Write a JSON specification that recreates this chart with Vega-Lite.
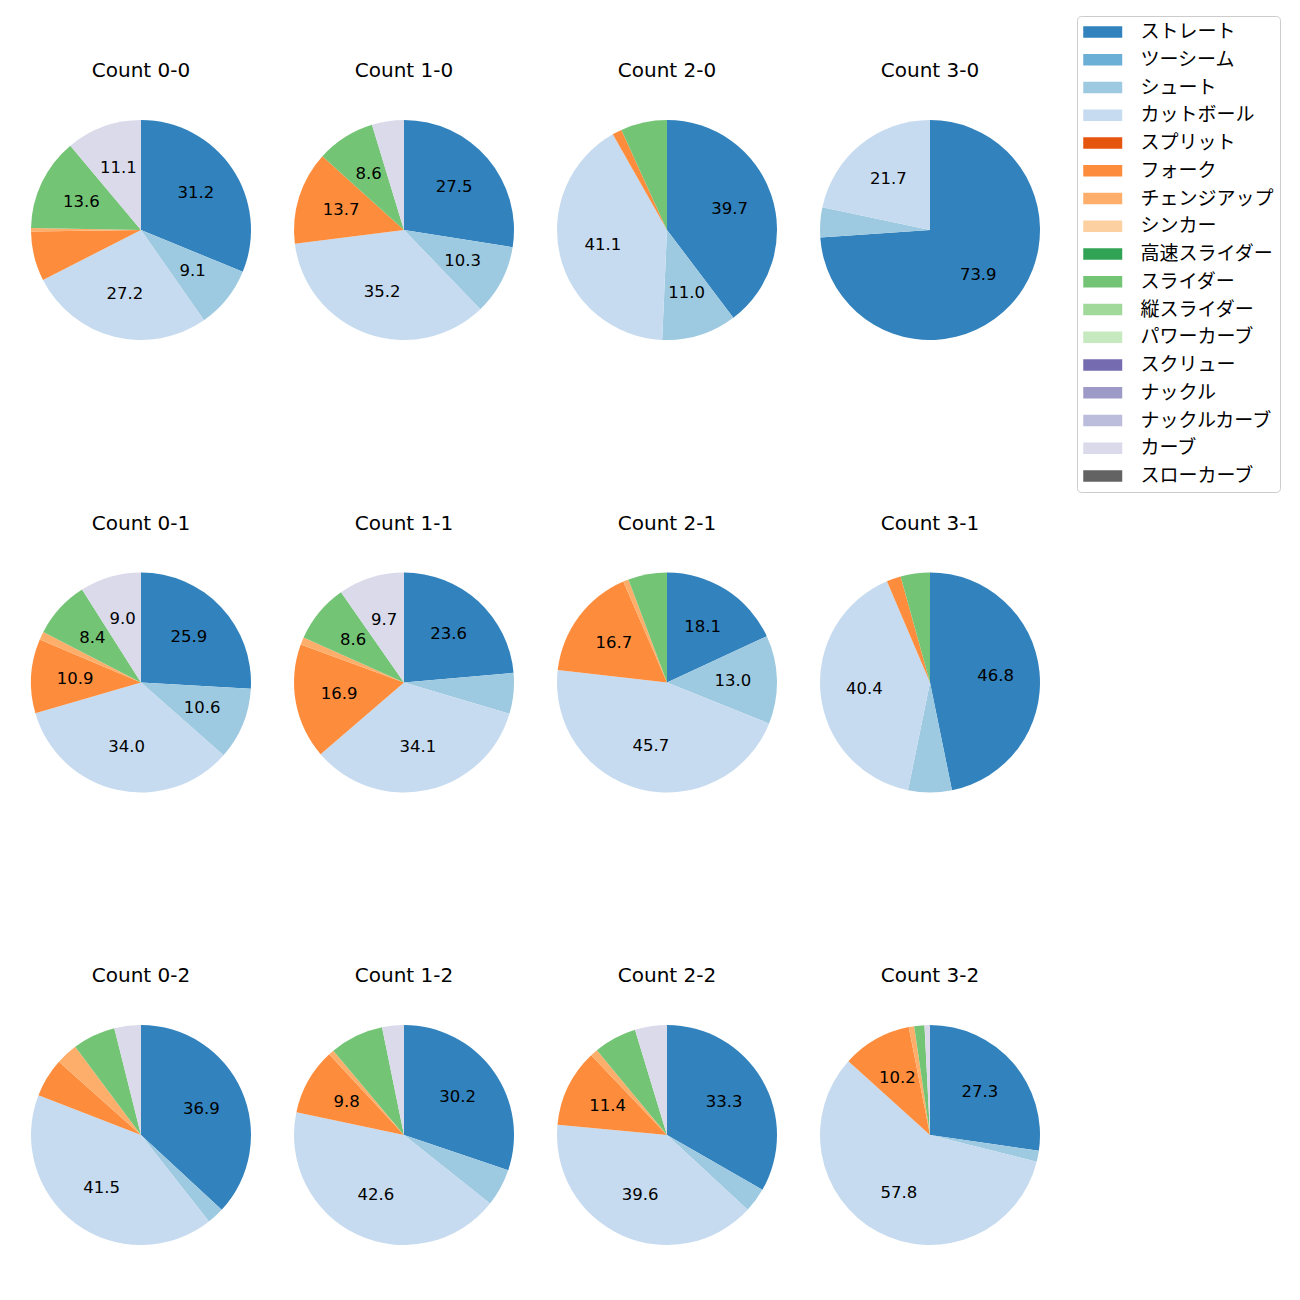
{
  "$schema": "https://vega.github.io/schema/vega-lite/v6.json",
  "padding": {"left": 31, "top": 15, "right": 0, "bottom": 0},
  "background": "white",
  "config": {
    "view": {"stroke": null},
    "font": "DejaVu Sans"
  },
  "data": {
    "values": [
      {"count": "Count 0-0", "pitch": "ストレート", "i": 0, "pct": 31.2},
      {"count": "Count 0-0", "pitch": "シュート", "i": 2, "pct": 9.1},
      {"count": "Count 0-0", "pitch": "カットボール", "i": 3, "pct": 27.2},
      {"count": "Count 0-0", "pitch": "フォーク", "i": 5, "pct": 7.3},
      {"count": "Count 0-0", "pitch": "チェンジアップ", "i": 6, "pct": 0.5},
      {"count": "Count 0-0", "pitch": "スライダー", "i": 9, "pct": 13.6},
      {"count": "Count 0-0", "pitch": "カーブ", "i": 15, "pct": 11.1},
      {"count": "Count 1-0", "pitch": "ストレート", "i": 0, "pct": 27.5},
      {"count": "Count 1-0", "pitch": "シュート", "i": 2, "pct": 10.3},
      {"count": "Count 1-0", "pitch": "カットボール", "i": 3, "pct": 35.2},
      {"count": "Count 1-0", "pitch": "フォーク", "i": 5, "pct": 13.7},
      {"count": "Count 1-0", "pitch": "スライダー", "i": 9, "pct": 8.6},
      {"count": "Count 1-0", "pitch": "カーブ", "i": 15, "pct": 4.7},
      {"count": "Count 2-0", "pitch": "ストレート", "i": 0, "pct": 39.7},
      {"count": "Count 2-0", "pitch": "シュート", "i": 2, "pct": 11.0},
      {"count": "Count 2-0", "pitch": "カットボール", "i": 3, "pct": 41.1},
      {"count": "Count 2-0", "pitch": "フォーク", "i": 5, "pct": 1.4},
      {"count": "Count 2-0", "pitch": "スライダー", "i": 9, "pct": 6.8},
      {"count": "Count 3-0", "pitch": "ストレート", "i": 0, "pct": 73.9},
      {"count": "Count 3-0", "pitch": "シュート", "i": 2, "pct": 4.4},
      {"count": "Count 3-0", "pitch": "カットボール", "i": 3, "pct": 21.7},
      {"count": "Count 0-1", "pitch": "ストレート", "i": 0, "pct": 25.9},
      {"count": "Count 0-1", "pitch": "シュート", "i": 2, "pct": 10.6},
      {"count": "Count 0-1", "pitch": "カットボール", "i": 3, "pct": 34.0},
      {"count": "Count 0-1", "pitch": "フォーク", "i": 5, "pct": 10.9},
      {"count": "Count 0-1", "pitch": "チェンジアップ", "i": 6, "pct": 1.2},
      {"count": "Count 0-1", "pitch": "スライダー", "i": 9, "pct": 8.4},
      {"count": "Count 0-1", "pitch": "カーブ", "i": 15, "pct": 9.0},
      {"count": "Count 1-1", "pitch": "ストレート", "i": 0, "pct": 23.6},
      {"count": "Count 1-1", "pitch": "シュート", "i": 2, "pct": 6.0},
      {"count": "Count 1-1", "pitch": "カットボール", "i": 3, "pct": 34.1},
      {"count": "Count 1-1", "pitch": "フォーク", "i": 5, "pct": 16.9},
      {"count": "Count 1-1", "pitch": "チェンジアップ", "i": 6, "pct": 1.1},
      {"count": "Count 1-1", "pitch": "スライダー", "i": 9, "pct": 8.6},
      {"count": "Count 1-1", "pitch": "カーブ", "i": 15, "pct": 9.7},
      {"count": "Count 2-1", "pitch": "ストレート", "i": 0, "pct": 18.1},
      {"count": "Count 2-1", "pitch": "シュート", "i": 2, "pct": 13.0},
      {"count": "Count 2-1", "pitch": "カットボール", "i": 3, "pct": 45.7},
      {"count": "Count 2-1", "pitch": "フォーク", "i": 5, "pct": 16.7},
      {"count": "Count 2-1", "pitch": "チェンジアップ", "i": 6, "pct": 0.8},
      {"count": "Count 2-1", "pitch": "スライダー", "i": 9, "pct": 5.7},
      {"count": "Count 3-1", "pitch": "ストレート", "i": 0, "pct": 46.8},
      {"count": "Count 3-1", "pitch": "シュート", "i": 2, "pct": 6.4},
      {"count": "Count 3-1", "pitch": "カットボール", "i": 3, "pct": 40.4},
      {"count": "Count 3-1", "pitch": "フォーク", "i": 5, "pct": 2.1},
      {"count": "Count 3-1", "pitch": "スライダー", "i": 9, "pct": 4.3},
      {"count": "Count 0-2", "pitch": "ストレート", "i": 0, "pct": 36.9},
      {"count": "Count 0-2", "pitch": "シュート", "i": 2, "pct": 2.5},
      {"count": "Count 0-2", "pitch": "カットボール", "i": 3, "pct": 41.5},
      {"count": "Count 0-2", "pitch": "フォーク", "i": 5, "pct": 5.7},
      {"count": "Count 0-2", "pitch": "チェンジアップ", "i": 6, "pct": 3.2},
      {"count": "Count 0-2", "pitch": "スライダー", "i": 9, "pct": 6.3},
      {"count": "Count 0-2", "pitch": "カーブ", "i": 15, "pct": 3.9},
      {"count": "Count 1-2", "pitch": "ストレート", "i": 0, "pct": 30.2},
      {"count": "Count 1-2", "pitch": "シュート", "i": 2, "pct": 5.5},
      {"count": "Count 1-2", "pitch": "カットボール", "i": 3, "pct": 42.6},
      {"count": "Count 1-2", "pitch": "フォーク", "i": 5, "pct": 9.8},
      {"count": "Count 1-2", "pitch": "チェンジアップ", "i": 6, "pct": 0.8},
      {"count": "Count 1-2", "pitch": "スライダー", "i": 9, "pct": 7.9},
      {"count": "Count 1-2", "pitch": "カーブ", "i": 15, "pct": 3.2},
      {"count": "Count 2-2", "pitch": "ストレート", "i": 0, "pct": 33.3},
      {"count": "Count 2-2", "pitch": "シュート", "i": 2, "pct": 3.6},
      {"count": "Count 2-2", "pitch": "カットボール", "i": 3, "pct": 39.6},
      {"count": "Count 2-2", "pitch": "フォーク", "i": 5, "pct": 11.4},
      {"count": "Count 2-2", "pitch": "チェンジアップ", "i": 6, "pct": 1.1},
      {"count": "Count 2-2", "pitch": "スライダー", "i": 9, "pct": 6.3},
      {"count": "Count 2-2", "pitch": "カーブ", "i": 15, "pct": 4.7},
      {"count": "Count 3-2", "pitch": "ストレート", "i": 0, "pct": 27.3},
      {"count": "Count 3-2", "pitch": "シュート", "i": 2, "pct": 1.6},
      {"count": "Count 3-2", "pitch": "カットボール", "i": 3, "pct": 57.8},
      {"count": "Count 3-2", "pitch": "フォーク", "i": 5, "pct": 10.2},
      {"count": "Count 3-2", "pitch": "チェンジアップ", "i": 6, "pct": 0.8},
      {"count": "Count 3-2", "pitch": "スライダー", "i": 9, "pct": 1.5},
      {"count": "Count 3-2", "pitch": "カーブ", "i": 15, "pct": 0.8}
    ]
  },
  "columns": 4,
  "spacing": {"column": 43, "row": 173.5},
  "facet": {
    "field": "count",
    "type": "nominal",
    "title": null,
    "sort": ["Count 0-0", "Count 1-0", "Count 2-0", "Count 3-0", "Count 0-1", "Count 1-1", "Count 2-1", "Count 3-1", "Count 0-2", "Count 1-2", "Count 2-2", "Count 3-2"],
    "header": {"labelFontSize": 20, "labelColor": "black", "labelPadding": 39, "labelOrient": "top", "labelFont": "DejaVu Sans"}
  },
  "resolve": {"scale": {"theta": "independent"}},
  "spec": {
    "width": 220,
    "height": 220,
    "encoding": {
      "theta": {"field": "pct", "type": "quantitative", "stack": true},
      "order": {"field": "i", "type": "quantitative", "sort": "ascending"}
    },
    "layer": [
      {
        "mark": {"type": "arc", "outerRadius": 110},
        "encoding": {
          "color": {
            "field": "pitch",
            "type": "nominal",
            "scale": {
              "domain": ["ストレート", "ツーシーム", "シュート", "カットボール", "スプリット", "フォーク", "チェンジアップ", "シンカー", "高速スライダー", "スライダー", "縦スライダー", "パワーカーブ", "スクリュー", "ナックル", "ナックルカーブ", "カーブ", "スローカーブ"],
              "range": ["#3182bd", "#6baed6", "#9ecae1", "#c6dbef", "#e6550d", "#fd8d3c", "#fdae6b", "#fdd0a2", "#31a354", "#74c476", "#a1d99b", "#c7e9c0", "#756bb1", "#9e9ac8", "#bcbddc", "#dadaeb", "#636363"]
            },
            "legend": {
              "title": null,
              "orient": "none",
              "legendX": 1046,
              "legendY": -104,
              "symbolType": "M-1,-0.6H3V0.6H-1Z",
              "symbolSize": 380,
              "symbolStrokeWidth": 0,
              "labelFontSize": 19,
              "labelFont": "Noto Sans CJK JP",
              "labelColor": "black",
              "labelOffset": 37.5,
              "rowPadding": 7.75,
              "padding": 6,
              "strokeColor": "#cccccc",
              "fillColor": "white",
              "cornerRadius": 4,
              "labelLimit": 300
            }
          }
        }
      },
      {
        "mark": {"type": "text", "radius": 66, "fontSize": 16.5, "color": "black", "font": "DejaVu Sans"},
        "encoding": {
          "text": {
            "condition": {"test": "datum.pct >= 8", "field": "pct", "type": "quantitative", "format": ".1f"},
            "value": ""
          }
        }
      }
    ]
  }
}
